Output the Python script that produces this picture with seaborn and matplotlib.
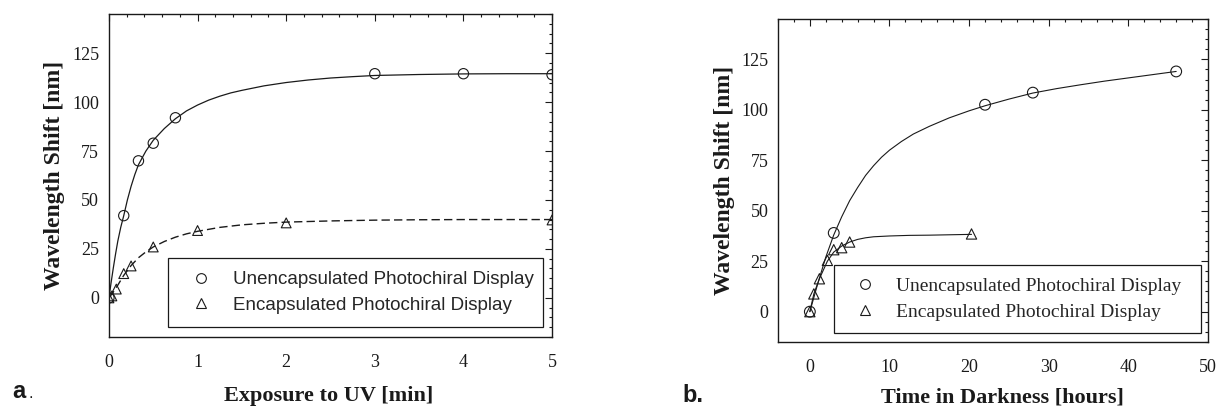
import numpy as np
import pandas as pd
import seaborn as sns
import matplotlib.pyplot as plt
from matplotlib.lines import Line2D
from matplotlib.ticker import MultipleLocator

# ---- data ----
# a. exposure to UV [min]
uv_time_unenc = [0, 0.167, 0.333, 0.5, 0.75, 3, 4, 5]
uv_shift_unenc = [0, 42, 70, 79, 92, 114.5, 114.5, 114]
uv_time_enc = [0, 0.033, 0.083, 0.167, 0.25, 0.5, 1, 2, 5]
uv_shift_enc = [0, 1, 4.5, 12.4, 16.3, 26, 34.4, 38.3, 39.8]

# fitted curves
uv_fit_unenc_x = [0, 0.025, 0.05, 0.075, 0.1, 0.133, 0.167, 0.208, 0.25, 0.292, 0.333,
                  0.417, 0.5, 0.625, 0.75, 0.875, 1, 1.125, 1.25, 1.375, 1.5, 1.75,
                  2, 2.25, 2.5, 2.75, 3, 3.5, 4, 4.5, 5]
uv_fit_unenc = [0, 8, 15.5, 22.5, 29, 36, 42, 50, 57, 63, 68,
                75, 80.5, 86.5, 91.5, 95.5, 98.5, 101, 103, 104.7, 106, 108.3,
                110, 111.3, 112.3, 113, 113.6, 114.1, 114.4, 114.5, 114.5]
uv_fit_enc_x = [0, 0.05, 0.1, 0.167, 0.25, 0.333, 0.417, 0.5, 0.625, 0.75, 0.875,
                1, 1.25, 1.5, 1.75, 2, 2.5, 3, 3.5, 4, 5]
uv_fit_enc = [0, 3, 6.5, 11.5, 16.5, 20.5, 23.5, 26, 28.8, 31, 32.7,
              34, 36, 37.3, 38.1, 38.7, 39.3, 39.7, 39.9, 40, 40]

# b. time in darkness [hours]
dark_time_unenc = [0, 3, 22, 28, 46]
dark_shift_unenc = [0, 39, 102.5, 108.5, 119]
dark_time_enc = [0, 0.5, 1.2, 2.2, 3, 4, 5, 20.3]
dark_shift_enc = [0, 8.8, 16.3, 25.4, 30.7, 31.7, 34.5, 38.5]

dark_fit_unenc_x = [0, 1, 2, 3, 4, 5, 6, 7, 8, 9, 10, 11.5, 13, 15, 17.5, 20,
                    22, 25, 28, 31, 34, 37, 40, 43, 46]
dark_fit_unenc = [0, 14, 27, 38, 47, 55, 61.5, 67.5, 72.3, 76.5, 80, 84.3, 88, 91.8, 96, 99.5,
                  102, 105.3, 108.3, 110.5, 112.4, 114.2, 115.8, 117.4, 119]
dark_fit_enc_x = [0, 0.5, 1.2, 2.2, 3, 4, 5, 6, 7, 8, 10, 12.5, 15, 20.3]
dark_fit_enc = [0, 8.8, 16.3, 25, 29.5, 32.5, 34.5, 35.8, 36.6, 37.1, 37.5, 37.8, 37.9, 38.3]

labels = ['Unencapsulated Photochiral Display', 'Encapsulated Photochiral Display']

sns.set_style("white")
plt.rcParams['font.family'] = ['Liberation Serif', 'DejaVu Serif']

ink = '#1a1a1a'

fig = plt.figure(figsize=(12.2, 4.12), dpi=100)
ax_a = fig.add_axes([0.0893, 0.182, 0.3632, 0.784])
ax_b = fig.add_axes([0.6377, 0.170, 0.3525, 0.784])


def style_axes(ax, xmaj, xmin):
    ax.xaxis.set_major_locator(MultipleLocator(xmaj))
    ax.xaxis.set_minor_locator(MultipleLocator(xmin))
    ax.yaxis.set_major_locator(MultipleLocator(25))
    ax.yaxis.set_minor_locator(MultipleLocator(5))
    ax.tick_params(which='both', direction='in', top=True, right=True,
                   color=ink, width=0.8)
    ax.tick_params(which='major', length=5)
    ax.tick_params(which='minor', length=2.5)
    ax.tick_params(axis='x', which='major', labelsize=13, pad=12, labelcolor=ink)
    ax.tick_params(axis='y', which='major', labelsize=13, pad=7, labelcolor=ink)
    ax.set_yticks([0, 25, 50, 75, 100, 125])
    for s in ax.spines.values():
        s.set_color(ink)
        s.set_linewidth(1.0)
        s.set_visible(True)


def hollow(ax, x, y, marker, size):
    sns.scatterplot(x=x, y=y, ax=ax, marker=marker, s=size, facecolors='none',
                    edgecolor=ink, linewidth=0.8, zorder=3)


# ---- panel a ----
sns.lineplot(x=uv_fit_unenc_x, y=uv_fit_unenc, ax=ax_a, color=ink, lw=0.9,
             estimator=None, sort=False)
sns.lineplot(x=uv_fit_enc_x, y=uv_fit_enc, ax=ax_a, color=ink, lw=1.0,
             estimator=None, sort=False, linestyle=(0, (6, 3)))
hollow(ax_a, uv_time_unenc, uv_shift_unenc, 'o', 55)
hollow(ax_a, uv_time_enc, uv_shift_enc, '^', 50)
ax_a.set_xlim(0, 5)
ax_a.set_ylim(-20, 145)
style_axes(ax_a, 1, 0.2)
ax_a.set_xlabel('Exposure to UV [min]', fontsize=16, fontweight='bold', color=ink)
ax_a.set_ylabel('Wavelength Shift [nm]', fontsize=17, fontweight='bold', color=ink)
ax_a.xaxis.set_label_coords(0.496, -0.152)
ax_a.yaxis.set_label_coords(-0.100, 0.5)

handles = [Line2D([], [], ls='', marker='o', ms=7, mfc='none', mec=ink, mew=0.8),
           Line2D([], [], ls='', marker='^', ms=7, mfc='none', mec=ink, mew=0.8)]
leg = ax_a.legend(handles, labels, loc='lower left', mode='expand',
                  bbox_to_anchor=(0.1326, 0.031, 0.847, 0.214), borderaxespad=0,
                  frameon=True, fancybox=False, edgecolor=ink, framealpha=1,
                  prop={'family': 'Liberation Sans', 'size': 13.5},
                  handlelength=2.2, handletextpad=0.6, borderpad=0.7, labelspacing=0.46)
leg.get_frame().set_linewidth(0.9)

# ---- panel b ----
sns.lineplot(x=dark_fit_unenc_x, y=dark_fit_unenc, ax=ax_b, color=ink, lw=0.8,
             estimator=None, sort=False)
sns.lineplot(x=dark_fit_enc_x, y=dark_fit_enc, ax=ax_b, color=ink, lw=0.8,
             estimator=None, sort=False)
hollow(ax_b, dark_time_unenc, dark_shift_unenc, 'o', 60)
hollow(ax_b, dark_time_enc, dark_shift_enc, '^', 55)
ax_b.set_xlim(-4, 50)
ax_b.set_ylim(-15, 145)
style_axes(ax_b, 10, 2)
ax_b.set_xlabel('Time in Darkness [hours]', fontsize=16, fontweight='bold', color=ink)
ax_b.set_ylabel('Wavelength Shift [nm]', fontsize=17, fontweight='bold', color=ink)
ax_b.xaxis.set_label_coords(0.521, -0.142)
ax_b.yaxis.set_label_coords(-0.100, 0.5)

leg = ax_b.legend(handles, labels, loc='lower left', mode='expand',
                  bbox_to_anchor=(0.130, 0.028, 0.854, 0.21), borderaxespad=0,
                  frameon=True, fancybox=False, edgecolor=ink, framealpha=1,
                  prop={'family': 'Liberation Serif', 'size': 14},
                  handlelength=1.9, handletextpad=0.67, borderpad=0.63, labelspacing=0.4)
leg.get_frame().set_linewidth(0.9)

# panel letters
fig.text(0.010, 0.035, 'a', fontsize=17, fontweight='bold', family='Liberation Sans', color=ink)
fig.text(0.0235, 0.035, '.', fontsize=12, family='Liberation Sans', color=ink)
fig.text(0.559, 0.025, 'b.', fontsize=17, fontweight='bold', family='Liberation Sans', color=ink)

fig.savefig('out.png', dpi=100)
